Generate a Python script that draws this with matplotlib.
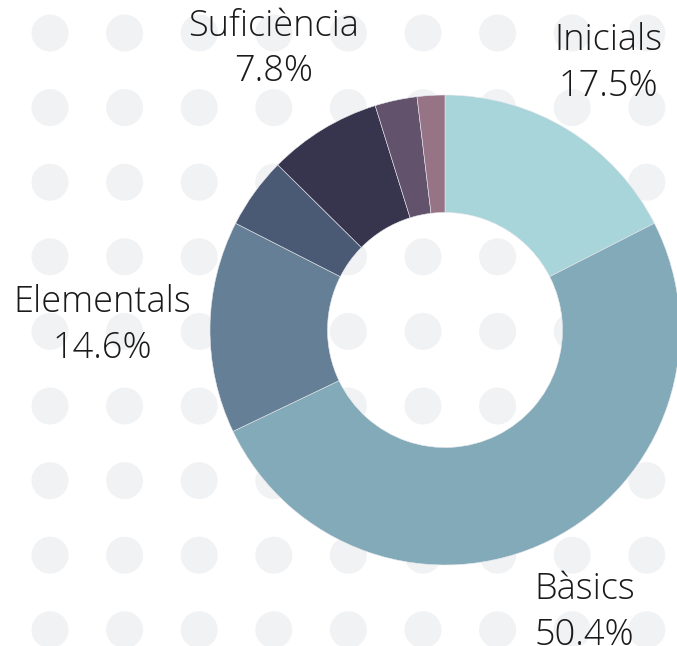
import numpy as np
import matplotlib.pyplot as plt
from matplotlib.patches import Circle

W, H = 677, 646

# slices, clockwise from 12 o'clock
labels = ['Inicials', 'Bàsics', 'Elementals', '', 'Suficiència', '', '']
values = [17.5, 50.4, 14.6, 4.9, 7.8, 2.9, 1.9]
colors = ['#a8d5da', '#82aab8', '#647f96', '#4a5a74', '#37354d', '#63526c', '#967486']
label_dist = [1.33, 1.34, 1.46, 0, 1.40, 0, 0]

plt.rcParams['font.family'] = ['Open Sans', 'DejaVu Sans']

fig = plt.figure(figsize=(W / 100, H / 100), dpi=100)
ax = fig.add_axes([0, 0, 1, 1])
ax.set_xlim(0, W)
ax.set_ylim(0, H)
ax.set_aspect('equal')
ax.axis('off')

# dotted background
for gx in np.arange(50, W + 40, 74.6):
    for gy in np.arange(33, H + 40, 74.6):
        ax.add_patch(Circle((gx, H - gy), 18.5, color='#f1f2f4', lw=0, zorder=0))

cx, cy, r = 445, H - 330, 235
ax.pie(values, colors=colors, startangle=90, counterclock=False,
       center=(cx, cy), radius=r, frame=True,
       wedgeprops=dict(width=r * 0.5, edgecolor='#e8e8ee', linewidth=0.4))
ax.set_xlim(0, W)
ax.set_ylim(0, H)
ax.axis('off')

total = sum(values)
cum = 0
for lab, v, d in zip(labels, values, label_dist):
    mid = (cum + v / 2) / total * 2 * np.pi
    cum += v
    if not lab:
        continue
    x = cx + d * r * np.sin(mid)
    y = cy + d * r * np.cos(mid)
    ax.text(x, y, f'{lab}\n{v}%', ha='center', va='center', fontsize=26,
            fontweight='light', color='#1a1a1a', linespacing=1.3)

fig.savefig('out.png', dpi=100)
